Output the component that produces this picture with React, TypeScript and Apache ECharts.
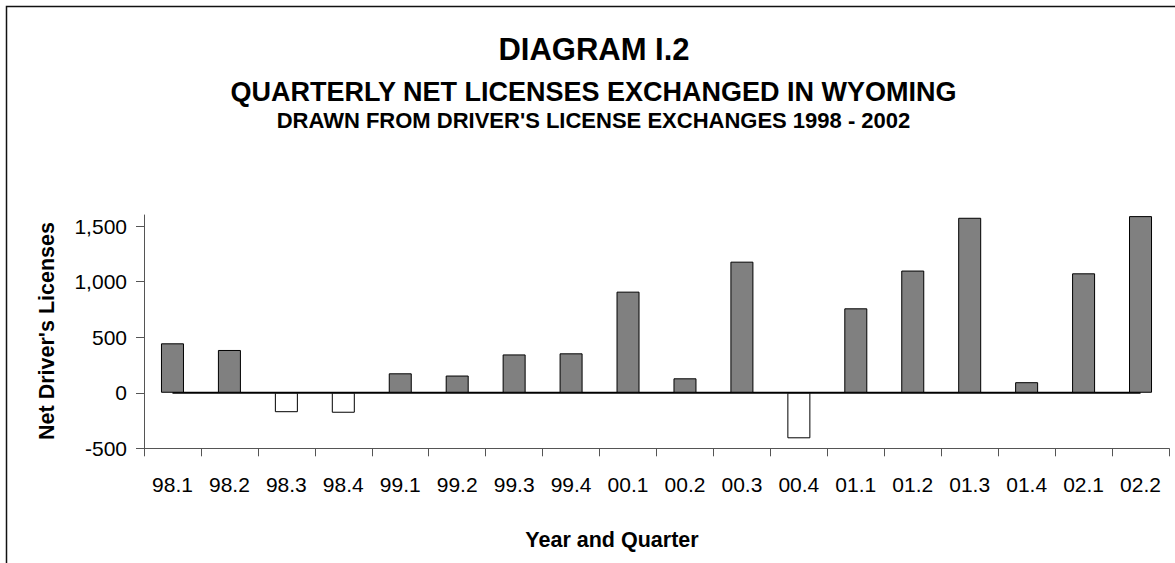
import React, { useEffect, useRef } from "react";
import * as echarts from "echarts";

const categories = ["98.1", "98.2", "98.3", "98.4", "99.1", "99.2", "99.3", "99.4", "00.1", "00.2", "00.3", "00.4", "01.1", "01.2", "01.3", "01.4", "02.1", "02.2"];
const netLicenses = [445, 385, -175, -180, 175, 155, 345, 355, 910, 130, 1180, -410, 760, 1100, 1575, 95, 1075, 1590];
const zeroLine = [0, 0, 0, 0, 0, 0, 0, 0, 0, 0, 0, 0, 0, 0, 0, 0, 0, 0];
const yTicks = [-500, 0, 500, 1000, 1500];

const titleMain = "DIAGRAM I.2";
const titleSub = "QUARTERLY NET LICENSES EXCHANGED IN WYOMING";
const titleSub2 = "DRAWN FROM DRIVER'S LICENSE EXCHANGES 1998 - 2002";
const yName = "Net Driver's Licenses";
const xName = "Year and Quarter";

const FONT = '"Liberation Sans", Arial, Helvetica, sans-serif';

export default function App() {
  const ref = useRef<HTMLDivElement>(null);
  useEffect(() => {
    if (!ref.current) return;
    const chart = echarts.init(ref.current, undefined, { renderer: "svg" });
    chart.setOption({
      animation: false,
      backgroundColor: "#ffffff",
      textStyle: { fontFamily: FONT },
      grid: { left: 144, right: 6, top: 215, bottom: 114.7, containLabel: false },
      xAxis: {
        type: "category",
        data: categories,
        boundaryGap: true,
        axisLine: { onZero: false, lineStyle: { color: "#555555", width: 1 } },
        axisTick: { show: true, length: 8, lineStyle: { color: "#555555" } },
        axisLabel: { color: "#000000", fontSize: 21, fontFamily: FONT, margin: 26, interval: 0 },
        splitLine: { show: false },
      },
      yAxis: {
        type: "value",
        min: -500,
        max: 1600,
        interval: 500,
        axisLine: { show: true, lineStyle: { color: "#555555", width: 1 } },
        axisTick: { show: true, length: 8, lineStyle: { color: "#555555" }, customValues: yTicks },
        axisLabel: {
          color: "#000000",
          fontSize: 21,
          fontFamily: FONT,
          margin: 17,
          customValues: yTicks,
          formatter: (v: number) => (yTicks.indexOf(v) >= 0 ? v.toLocaleString("en-US") : ""),
        },
        splitLine: { show: false },
      },
      series: [
        {
          type: "line",
          data: zeroLine,
          symbol: "none",
          lineStyle: { color: "#000000", width: 2 },
          z: 1,
          silent: true,
        },
        {
          type: "bar",
          barWidth: 23,
          z: 2,
          data: netLicenses.map((v) => ({
            value: v,
            itemStyle: {
              color: v < 0 ? "#ffffff" : "#808080",
              borderColor: "#000000",
              borderWidth: 1,
            },
          })),
        },
      ],
      graphic: [
        {
          type: "rect",
          shape: { x: 6.5, y: 6.5, width: 1400, height: 800 },
          style: { fill: "none", stroke: "#111111", lineWidth: 1.5 },
          silent: true,
        },
        {
          type: "text",
          x: 594,
          y: 49.5,
          style: { text: titleMain, font: `bold 31px ${FONT}`, fill: "#000000", align: "center", verticalAlign: "middle" },
        },
        {
          type: "text",
          x: 593.5,
          y: 91.5,
          style: { text: titleSub, font: `bold 27px ${FONT}`, fill: "#000000", align: "center", verticalAlign: "middle" },
        },
        {
          type: "text",
          x: 593.5,
          y: 120.7,
          style: { text: titleSub2, font: `bold 22px ${FONT}`, fill: "#000000", align: "center", verticalAlign: "middle" },
        },
        {
          type: "text",
          x: 47,
          y: 331,
          rotation: Math.PI / 2,
          style: { text: yName, font: `bold 21.5px ${FONT}`, fill: "#000000", align: "center", verticalAlign: "middle" },
        },
        {
          type: "text",
          x: 612,
          y: 540,
          style: { text: xName, font: `bold 21.5px ${FONT}`, fill: "#000000", align: "center", verticalAlign: "middle" },
        },
      ],
    });
    return () => chart.dispose();
  }, []);
  return (
    <div
      ref={ref}
      style={{ position: "absolute", left: 0, top: 0, width: 1175, height: 563 }}
    />
  );
}
